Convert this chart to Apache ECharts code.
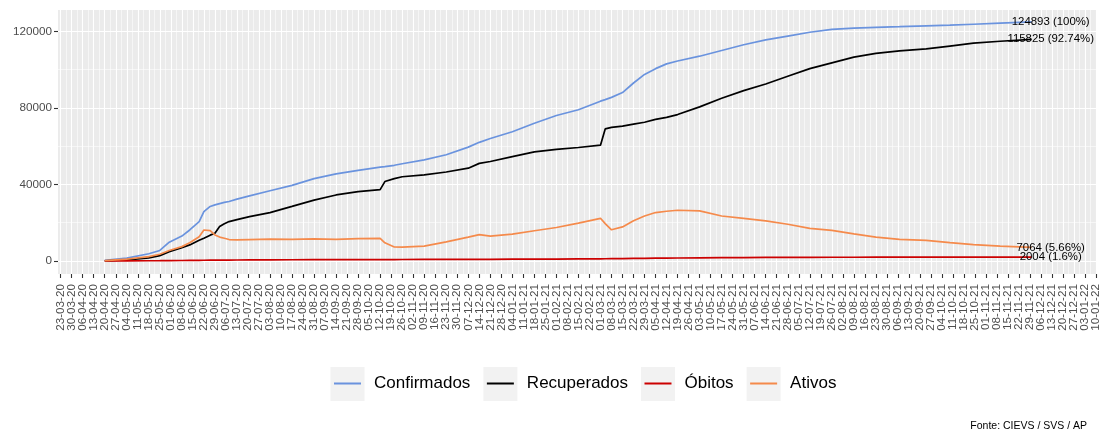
<!DOCTYPE html>
<html>
<head>
<meta charset="utf-8">
<script src="https://cdn.jsdelivr.net/npm/echarts@6/dist/echarts.min.js"></script>
<style>
html, body { margin: 0; padding: 0; background: #fff; }
#chart { width: 1100px; height: 433px; }
</style>
</head>
<body>
<div id="chart"></div>
<script>
// data
var dates = [
  '2020-04-20', '2020-05-04', '2020-05-18', '2020-05-25', '2020-05-31', '2020-06-08', '2020-06-13',
  '2020-06-19', '2020-06-22', '2020-06-26', '2020-06-29', '2020-07-02', '2020-07-05', '2020-07-08',
  '2020-07-13', '2020-07-21', '2020-08-03', '2020-08-17', '2020-08-31', '2020-09-14', '2020-09-28',
  '2020-10-12', '2020-10-15', '2020-10-21', '2020-10-26', '2020-11-09', '2020-11-23', '2020-12-07',
  '2020-12-14', '2020-12-21', '2021-01-04', '2021-01-18', '2021-02-01', '2021-02-15', '2021-03-01',
  '2021-03-04', '2021-03-08', '2021-03-15', '2021-03-22', '2021-03-29', '2021-04-05', '2021-04-12',
  '2021-04-19', '2021-05-03', '2021-05-17', '2021-05-31', '2021-06-14', '2021-06-28', '2021-07-12',
  '2021-07-26', '2021-08-09', '2021-08-23', '2021-09-07', '2021-09-24', '2021-10-09', '2021-10-24',
  '2021-11-10', '2021-11-30'
];
var confirmados = [
  300, 1500, 3800, 5500, 9800, 13000, 16200,
  20600, 25800, 28500, 29300, 30000, 30600, 31100,
  32300, 34000, 36700, 39500, 43000, 45500, 47300,
  49000, 49300, 50000, 50800, 52800, 55500, 59500,
  62000, 64000, 67500, 72000, 76000, 79000, 83500,
  84300, 85500, 88000, 93000, 97500, 100500, 103000,
  104500, 107000, 110000, 113000, 115500, 117500, 119500,
  121000, 121700, 122100, 122400, 122800, 123200, 123700,
  124300, 124893
];
var recuperados = [
  100, 600, 1600, 2800, 4900, 7000, 8400,
  10800, 11900, 13500, 14500, 18000, 19500, 20600,
  21600, 23200, 25300, 28500, 31800, 34500, 36200,
  37300, 41500, 43000, 44000, 45000, 46500, 48500,
  51000, 52000, 54500, 57000, 58300, 59300, 60500,
  69000, 69800, 70500, 71500, 72500, 74000, 75000,
  76500, 80500, 85000, 89000, 92500, 96500, 100500,
  103500, 106500, 108500, 109800, 110800, 112300, 113800,
  114800, 115825
];
var obitos = [
  20, 60, 120, 160, 200, 260, 300,
  350, 380, 410, 430, 450, 470, 490,
  520, 560, 610, 650, 680, 710, 730,
  750, 755, 760, 770, 790, 810, 840,
  860, 880, 920, 970, 1020, 1080, 1150,
  1170, 1200, 1260, 1320, 1390, 1460, 1520,
  1570, 1660, 1740, 1800, 1850, 1890, 1920,
  1940, 1955, 1965, 1975, 1982, 1988, 1993,
  1998, 2004
];
var ativos = [
  200, 1000, 2300, 3500, 5500, 7500, 9500,
  12700, 16200, 15900, 13600, 12500, 11900, 11200,
  11000, 11200, 11400, 11300, 11600, 11300, 11700,
  11800, 9500, 7300, 7200, 7800, 10000, 12500,
  13800, 13000, 14000, 15800, 17500, 19800, 22300,
  19500, 16300, 17800, 21000, 23500, 25300, 26000,
  26500, 26200, 23500, 22300, 21000, 19200, 17000,
  16000, 14200, 12500, 11300, 10800, 9600, 8500,
  7800, 7064
];
var seriesNames = ['Confirmados', 'Recuperados', 'Óbitos', 'Ativos'];
var seriesColors = ['#6A93DE', '#000000', '#CC0000', '#F58A4B'];
var firstBreak = '2020-03-23';   // weekly date breaks
var lastBreak = '2022-01-10';
var yBreaks = [0, 40000, 80000, 120000];
var yMinorBreaks = [20000, 60000, 100000];

var DAY = 86400000;
var p0 = firstBreak.split('-');
var origin = Date.UTC(+p0[0], p0[1] - 1, +p0[2]);
function dayOf(s) {
  var p = s.split('-');
  return (Date.UTC(+p[0], p[1] - 1, +p[2]) - origin) / DAY;
}
function pad(n) { return n < 10 ? '0' + n : '' + n; }
function fmtDay(d) {
  var t = new Date(origin + Math.round(d) * DAY);
  return pad(t.getUTCDate()) + '-' + pad(t.getUTCMonth() + 1) + '-' + String(t.getUTCFullYear()).slice(2);
}

var lastDay = dayOf(lastBreak);
var xBreaks = [], xMinorBreaks = [], xEven = [], xOdd = [];
for (var d = 0; d <= lastDay; d += 7) {
  xBreaks.push(d);
  (d % 14 === 0 ? xEven : xOdd).push(d);
  if (d + 3.5 < lastDay) xMinorBreaks.push(d + 3.5);
}

var FONT = '"Liberation Sans", Arial, sans-serif';
var xMin = -1.7, xMax = lastDay + 0.5;
var yMin = -6800, yMax = 131138;

var allValues = [confirmados, recuperados, obitos, ativos];
var total = confirmados[confirmados.length - 1];

var series = allValues.map(function (vals, i) {
  var last = vals[vals.length - 1];
  var pct = Math.round(last / total * 10000) / 100;
  return {
    name: seriesNames[i],
    type: 'line',
    symbol: 'none',
    clip: false,
    color: seriesColors[i],
    lineStyle: { width: 1.7, color: seriesColors[i] },
    data: dates.map(function (s, j) { return [dayOf(s), vals[j]]; }),
    markPoint: {
      symbol: 'circle',
      symbolSize: 0,
      silent: true,
      data: [{ coord: [dayOf(dates[dates.length - 1]), last] }],
      label: {
        show: true,
        position: 'inside',
        offset: [19, 0],
        formatter: last + ' (' + pct + '%)',
        color: '#000',
        fontSize: 11.4,
        fontFamily: FONT
      }
    }
  };
});

// date labels split over two axes so neighbouring labels never collide
function labelAxis(values) {
  return {
    type: 'value', min: xMin, max: xMax, position: 'bottom', offset: 0,
    axisLine: { show: false, onZero: false },
    axisTick: { show: false },
    splitLine: { show: false },
    axisLabel: {
      customValues: values, rotate: 90, margin: 10,
      showMinLabel: true, showMaxLabel: true,
      color: '#4D4D4D', fontSize: 11.7, fontFamily: FONT,
      formatter: function (v) { return fmtDay(v); }
    }
  };
}

var chart = echarts.init(document.getElementById('chart'));
chart.setOption({
  animation: false,
  backgroundColor: '#fff',
  title: {
    text: 'Fonte: CIEVS / SVS / AP',
    right: 13,
    top: 421,
    padding: 0,
    textStyle: { fontSize: 10.5, fontWeight: 'normal', color: '#000', fontFamily: FONT }
  },
  grid: {
    left: 58, right: 3, top: 10, bottom: 159,
    show: true, backgroundColor: '#EBEBEB', borderWidth: 0,
    outerBoundsMode: 'none'
  },
  xAxis: [{
    type: 'value', min: xMin, max: xMax, position: 'bottom', offset: 0,
    axisLine: { show: false, onZero: false },
    axisTick: { show: true, length: 4, customValues: xBreaks, lineStyle: { color: '#333', width: 1.1 } },
    axisLabel: { show: false, customValues: xBreaks },
    splitLine: { show: true, lineStyle: { color: '#fff', width: 1.1 } }
  }, {
    type: 'value', min: xMin, max: xMax, position: 'bottom', offset: 0,
    axisLine: { show: false, onZero: false },
    axisTick: { show: false, customValues: xMinorBreaks },
    axisLabel: { show: false, customValues: xMinorBreaks },
    splitLine: { show: true, lineStyle: { color: '#fff', width: 0.55 } }
  }, labelAxis(xEven), labelAxis(xOdd)],
  yAxis: [{
    type: 'value', min: yMin, max: yMax,
    axisLine: { show: false, onZero: false },
    axisTick: { show: true, length: 4, customValues: yBreaks, lineStyle: { color: '#333', width: 1.1 } },
    axisLabel: {
      customValues: yBreaks, margin: 6, color: '#4D4D4D', fontSize: 11.7, fontFamily: FONT,
      formatter: function (v) { return String(v); }
    },
    splitLine: { show: true, lineStyle: { color: '#fff', width: 1.1 } }
  }, {
    type: 'value', min: yMin, max: yMax, position: 'left',
    axisLine: { show: false, onZero: false },
    axisTick: { show: false, customValues: yMinorBreaks },
    axisLabel: { show: false, customValues: yMinorBreaks },
    splitLine: { show: true, lineStyle: { color: '#fff', width: 0.55 } }
  }],
  legend: {
    data: seriesNames,
    left: 334,
    top: 375,
    padding: 0,
    icon: 'path://M0,0H27V2H0Z',
    itemWidth: 27,
    itemHeight: 2,
    itemGap: 16.5,
    textStyle: { fontSize: 17, color: '#000', fontFamily: FONT, padding: [0, 0, 0, 8] }
  },
  graphic: seriesNames.map(function (n, i) {
    return {
      type: 'rect', z: 0,
      left: [330.5, 483.4, 641, 746.6][i], top: 367,
      shape: { width: 34, height: 34 },
      style: { fill: '#F2F2F2' }
    };
  }),
  series: series
});
</script>
</body>
</html>
